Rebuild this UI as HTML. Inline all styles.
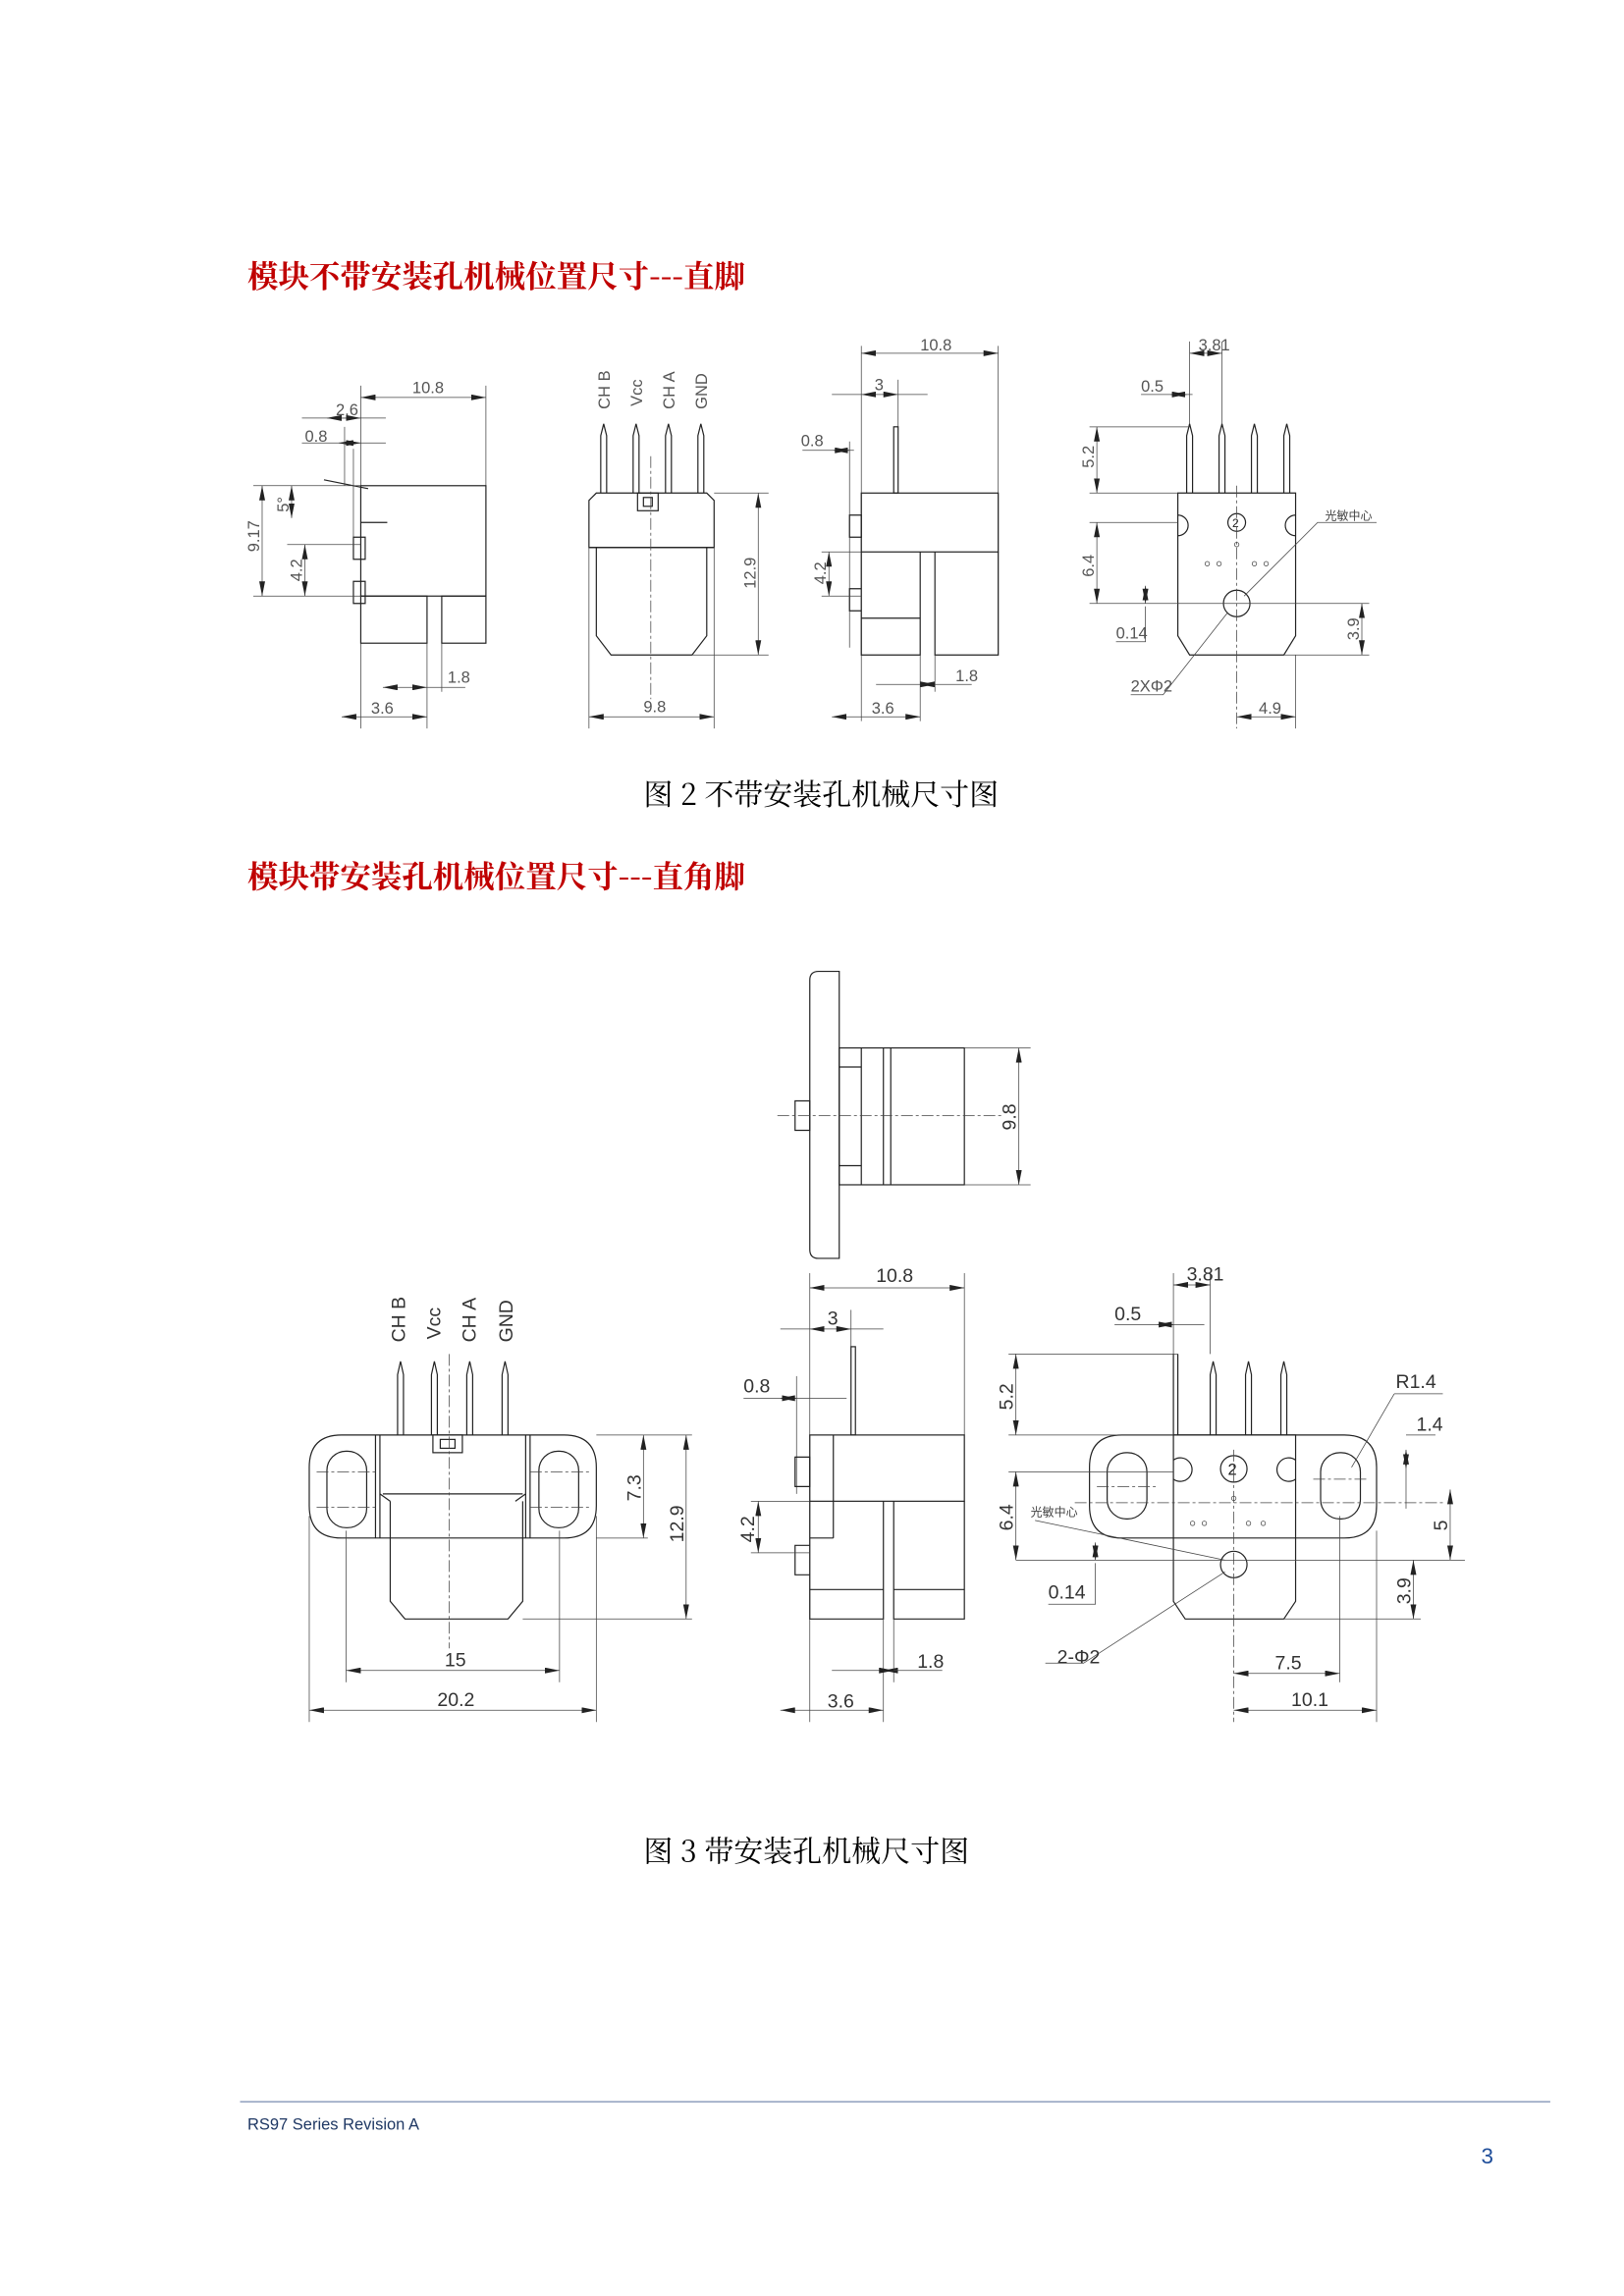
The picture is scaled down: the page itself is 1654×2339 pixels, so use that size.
<!DOCTYPE html>
<html><head><meta charset="utf-8"><style>
html,body{margin:0;padding:0;background:#fff}
svg{display:block}
.b{fill:none;stroke:#222;stroke-width:0.8}
.d{fill:none;stroke:#444;stroke-width:0.5}
.c{fill:none;stroke:#444;stroke-width:0.5;stroke-dasharray:8 2 2 2}
.a{fill:none;stroke:#444;stroke-width:0.5;marker-start:url(#as);marker-end:url(#ae)}
.t{font-family:"Liberation Sans Narrow","Liberation Sans",sans-serif;font-size:11px;fill:#555}
.t2{font-family:"Liberation Sans Narrow","Liberation Sans",sans-serif;font-size:13px;fill:#333}
.tc{font-family:"Noto Sans CJK SC",sans-serif;font-size:8px;fill:#444}
</style></head><body>
<svg width="1654" height="2339" viewBox="0 0 1103 1560" xmlns="http://www.w3.org/2000/svg">
<defs>
<marker id="ae" viewBox="0 0 10 4" refX="10" refY="2" markerWidth="10" markerHeight="4" orient="auto" markerUnits="userSpaceOnUse"><path d="M0,0L10,2L0,4z" fill="#222"/></marker>
<marker id="as" viewBox="0 0 10 4" refX="0" refY="2" markerWidth="10" markerHeight="4" orient="auto" markerUnits="userSpaceOnUse"><path d="M10,0L0,2L10,4z" fill="#222"/></marker>
</defs>

<text x="168" y="195" font-family="'Noto Serif CJK SC',serif" font-weight="bold" font-size="21" fill="#c00000">模块不带安装孔机械位置尺寸---直脚</text>
<text x="168" y="603" font-family="'Noto Serif CJK SC',serif" font-weight="bold" font-size="21" fill="#c00000">模块带安装孔机械位置尺寸---直角脚</text>
<text x="437" y="547" font-family="'Noto Serif CJK SC',serif" font-size="20" fill="#000">图 2  不带安装孔机械尺寸图</text>
<text x="437" y="1265" font-family="'Noto Serif CJK SC',serif" font-size="20" fill="#000">图 3  带安装孔机械尺寸图</text>

<!-- ========== FIG 2 A ========== -->
<g>
<line class="d" x1="245" y1="262" x2="245" y2="495"/>
<line class="d" x1="330" y1="262" x2="330" y2="330"/>
<line class="a" x1="245" y1="270" x2="330" y2="270"/><text class="t" x="280" y="267">10.8</text>
<line class="d" x1="205" y1="284" x2="262" y2="284"/><line class="a" x1="222" y1="284" x2="245" y2="284"/><text class="t" x="228" y="282">2.6</text>
<line class="d" x1="205" y1="301" x2="262" y2="301"/><line class="a" x1="230" y1="301" x2="245" y2="301"/><text class="t" x="207" y="300">0.8</text>
<line class="d" x1="234" y1="290" x2="234" y2="330"/><line class="d" x1="240" y1="305" x2="240" y2="370"/>
<rect class="b" x="245" y="330" width="85" height="75"/>
<path class="b" d="M220,326 L250,332 M245,355 h18 M240,365 h8 v15 h-8z M240,395 h8 v15 h-8z"/>
<rect class="b" x="245" y="405" width="45" height="32"/><rect class="b" x="300" y="405" width="30" height="32"/>
<line class="d" x1="290" y1="437" x2="290" y2="495"/><line class="d" x1="300" y1="437" x2="300" y2="470"/>
<line class="d" x1="172" y1="330" x2="245" y2="330"/><line class="d" x1="172" y1="405" x2="245" y2="405"/>
<line class="a" x1="178" y1="330" x2="178" y2="405"/><text class="t" transform="translate(176,375) rotate(-90)">9.17</text>
<line class="a" x1="198" y1="330" x2="198" y2="352"/><text class="t" transform="translate(196,348) rotate(-90)">5°</text>
<line class="d" x1="195" y1="370" x2="245" y2="370"/>
<line class="a" x1="207" y1="370" x2="207" y2="405"/><text class="t" transform="translate(205,395) rotate(-90)">4.2</text>
<line class="a" x1="260" y1="467" x2="290" y2="467"/><line class="d" x1="290" y1="467" x2="316" y2="467"/><text class="t" x="304" y="464">1.8</text>
<line class="a" x1="232" y1="487" x2="290" y2="487"/><text class="t" x="252" y="485">3.6</text>
</g>

<!-- ========== FIG 2 B ========== -->
<g>
<text class="t" transform="translate(414,278) rotate(-90)">CH B</text>
<text class="t" transform="translate(436,276) rotate(-90)">Vcc</text>
<text class="t" transform="translate(458,278) rotate(-90)">CH A</text>
<text class="t" transform="translate(480,278) rotate(-90)">GND</text>
<path class="b" d="M408,335V296L410,288L412,296V335 M430,335V296L432,288L434,296V335 M452,335V296L454,288L456,296V335 M474,335V296L476,288L478,296V335"/>
<path class="b" d="M400,372V340L405,335H480L485,340V372Z"/>
<rect class="b" x="433" y="335" width="14" height="12"/><rect class="b" x="437" y="338" width="6" height="6"/>
<path class="b" d="M405,372V432L415,445H470L480,432V372"/>
<line class="b" x1="400" y1="372" x2="485" y2="372"/>
<line class="c" x1="442" y1="310" x2="442" y2="475"/>
<line class="d" x1="485" y1="335" x2="522" y2="335"/><line class="d" x1="470" y1="445" x2="522" y2="445"/>
<line class="a" x1="515" y1="335" x2="515" y2="445"/><text class="t" transform="translate(513,400) rotate(-90)">12.9</text>
<line class="d" x1="400" y1="372" x2="400" y2="495"/><line class="d" x1="485" y1="372" x2="485" y2="495"/>
<line class="a" x1="400" y1="487" x2="485" y2="487"/><text class="t" x="437" y="484">9.8</text>
</g>

<!-- ========== FIG 2 C ========== -->
<g>
<line class="d" x1="585" y1="235" x2="585" y2="490"/>
<line class="d" x1="678" y1="235" x2="678" y2="445"/>
<line class="a" x1="585" y1="240" x2="678" y2="240"/><text class="t" x="625" y="238">10.8</text>
<line class="d" x1="565" y1="268" x2="585" y2="268"/><line class="a" x1="585" y1="268" x2="610" y2="268"/><line class="d" x1="610" y1="268" x2="630" y2="268"/><text class="t" x="594" y="265">3</text>
<line class="d" x1="610" y1="258" x2="610" y2="290"/>
<line class="d" x1="545" y1="306" x2="580" y2="306"/><line class="a" x1="566" y1="306" x2="577" y2="306"/><text class="t" x="544" y="303">0.8</text>
<line class="d" x1="577" y1="300" x2="577" y2="440"/>
<rect class="b" x="607" y="290" width="3" height="45"/>
<rect class="b" x="585" y="335" width="93" height="40"/>
<path class="b" d="M585,375V445H625V375 M635,375V445H678V375 M585,420h40 M577,350h8v15h-8z M577,400h8v15h-8z"/>
<line class="d" x1="625" y1="445" x2="625" y2="490"/><line class="d" x1="635" y1="445" x2="635" y2="470"/>
<line class="d" x1="558" y1="375" x2="585" y2="375"/><line class="d" x1="558" y1="405" x2="585" y2="405"/>
<line class="a" x1="563" y1="375" x2="563" y2="405"/><text class="t" transform="translate(561,397) rotate(-90)">4.2</text>
<line class="d" x1="595" y1="465" x2="625" y2="465"/><line class="a" x1="625" y1="465" x2="635" y2="465"/><line class="d" x1="635" y1="465" x2="660" y2="465"/><text class="t" x="649" y="463">1.8</text>
<line class="a" x1="565" y1="487" x2="625" y2="487"/><text class="t" x="592" y="485">3.6</text>
</g>

<!-- ========== FIG 2 D ========== -->
<g>
<line class="d" x1="808" y1="232" x2="808" y2="290"/><line class="d" x1="830" y1="232" x2="830" y2="290"/>
<line class="a" x1="808" y1="240" x2="830" y2="240"/><text class="t" x="814" y="238">3.81</text>
<line class="d" x1="775" y1="268" x2="810" y2="268"/><line class="a" x1="795" y1="268" x2="806" y2="268"/><text class="t" x="775" y="266">0.5</text>
<path class="b" d="M806,335V296L808,288L810,296V335 M828,335V296L830,288L832,296V335 M850,335V296L852,288L854,296V335 M872,335V296L874,288L876,296V335"/>
<path class="b" d="M800,335H880V432L872,445H808L800,432Z"/>
<path class="b" d="M800,350A7,7 0 1 1 800,364 M880,350A7,7 0 1 0 880,364"/>
<circle class="b" cx="840" cy="355" r="6"/><text x="837" y="358" font-size="8" font-family="Liberation Sans" fill="#222">2</text>
<circle class="b" cx="840" cy="410" r="9"/>
<circle class="d" cx="820" cy="383" r="1.5"/><circle class="d" cx="828" cy="383" r="1.5"/><circle class="d" cx="852" cy="383" r="1.5"/><circle class="d" cx="860" cy="383" r="1.5"/><circle class="d" cx="840" cy="370" r="1.5"/>
<line class="c" x1="840" y1="330" x2="840" y2="495"/>
<line class="d" x1="740" y1="290" x2="808" y2="290"/><line class="d" x1="740" y1="335" x2="800" y2="335"/>
<line class="a" x1="745" y1="290" x2="745" y2="335"/><text class="t" transform="translate(743,318) rotate(-90)">5.2</text>
<line class="d" x1="740" y1="355" x2="800" y2="355"/><line class="d" x1="740" y1="410" x2="930" y2="410"/>
<line class="a" x1="745" y1="355" x2="745" y2="410"/><text class="t" transform="translate(743,392) rotate(-90)">6.4</text>
<line class="a" x1="778" y1="398" x2="778" y2="410"/><path class="d" d="M778,412V436H758"/><text class="t" x="758" y="434">0.14</text>
<line class="d" x1="872" y1="445" x2="930" y2="445"/>
<line class="a" x1="925" y1="410" x2="925" y2="445"/><text class="t" transform="translate(923,435) rotate(-90)">3.9</text>
<line class="d" x1="880" y1="445" x2="880" y2="495"/>
<line class="a" x1="840" y1="487" x2="880" y2="487"/><text class="t" x="855" y="485">4.9</text>
<path class="d" d="M768,472H790L834,416"/><text class="t" x="768" y="470">2XΦ2</text>
<path class="d" d="M845,405L895,355H935"/><text class="tc" x="900" y="353">光敏中心</text>
</g>

<!-- ========== FIG 3 TOP ========== -->
<g>
<path class="b" d="M556,660H570V855H556Q550,855 550,849V666Q550,660 556,660Z"/>
<rect class="b" x="570" y="712" width="85" height="93"/>
<path class="b" d="M585,712V805 M600,712V805 M605,712V805 M570,725h15 M570,792h15 M540,748h10v20h-10z"/>
<line class="c" x1="528" y1="758" x2="680" y2="758"/>
<line class="d" x1="655" y1="712" x2="700" y2="712"/><line class="d" x1="655" y1="805" x2="700" y2="805"/>
<line class="a" x1="692" y1="712" x2="692" y2="805"/><text class="t2" transform="translate(690,768) rotate(-90)">9.8</text>
</g>

<!-- ========== FIG 3 BOTTOM LEFT ========== -->
<g>
<text class="t2" transform="translate(275,912) rotate(-90)">CH B</text>
<text class="t2" transform="translate(299,910) rotate(-90)">Vcc</text>
<text class="t2" transform="translate(323,912) rotate(-90)">CH A</text>
<text class="t2" transform="translate(348,912) rotate(-90)">GND</text>
<path class="b" d="M270,975V934L272,925L274,934V975 M293,975V934L295,925L297,934V975 M317,975V934L319,925L321,934V975 M341,975V934L343,925L345,934V975"/>
<path class="b" d="M232,975H383Q405,975 405,997V1023Q405,1045 383,1045H232Q210,1045 210,1023V997Q210,975 232,975Z" fill="#fff"/>
<path class="b" d="M255,975V1045 M360,975V1045 M258,975V1045 M357,975V1045"/>
<path class="b" d="M260,1015H355 M265,1020V1088L275,1100H345L355,1088V1020 M258,1015L265,1020 M357,1015L350,1020"/>
<rect class="b" x="294" y="975" width="20" height="12"/><rect class="b" x="299" y="978" width="10" height="6"/>
<rect class="b" x="222" y="986" width="27" height="52" rx="13"/>
<rect class="b" x="366" y="986" width="27" height="52" rx="13"/>
<path class="c" d="M215,1000H255 M215,1024H255 M360,1000H400 M360,1024H400"/>
<line class="c" x1="305" y1="920" x2="305" y2="1120"/>
<line class="d" x1="405" y1="975" x2="470" y2="975"/><line class="d" x1="405" y1="1045" x2="440" y2="1045"/><line class="d" x1="355" y1="1100" x2="470" y2="1100"/>
<line class="a" x1="437" y1="975" x2="437" y2="1045"/><text class="t2" transform="translate(435,1020) rotate(-90)">7.3</text>
<line class="a" x1="466" y1="975" x2="466" y2="1100"/><text class="t2" transform="translate(464,1048) rotate(-90)">12.9</text>
<line class="d" x1="235" y1="1040" x2="235" y2="1143"/><line class="d" x1="380" y1="1040" x2="380" y2="1143"/>
<line class="d" x1="210" y1="1030" x2="210" y2="1170"/><line class="d" x1="405" y1="1030" x2="405" y2="1170"/>
<line class="a" x1="235" y1="1135" x2="380" y2="1135"/><text class="t2" x="302" y="1132">15</text>
<line class="a" x1="210" y1="1162" x2="405" y2="1162"/><text class="t2" x="297" y="1159">20.2</text>
</g>

<!-- ========== FIG 3 BOTTOM MID ========== -->
<g>
<line class="d" x1="550" y1="865" x2="550" y2="1170"/><line class="d" x1="655" y1="865" x2="655" y2="975"/>
<line class="a" x1="550" y1="875" x2="655" y2="875"/><text class="t2" x="595" y="871">10.8</text>
<line class="d" x1="530" y1="903" x2="550" y2="903"/><line class="a" x1="550" y1="903" x2="578" y2="903"/><line class="d" x1="578" y1="903" x2="600" y2="903"/><text class="t2" x="562" y="900">3</text>
<line class="d" x1="578" y1="890" x2="578" y2="915"/>
<line class="d" x1="505" y1="950" x2="575" y2="950"/><line class="a" x1="530" y1="950" x2="541" y2="950"/><text class="t2" x="505" y="946">0.8</text>
<line class="d" x1="541" y1="935" x2="541" y2="1015"/>
<rect class="b" x="578" y="915" width="3" height="60"/>
<rect class="b" x="550" y="975" width="105" height="45"/>
<path class="b" d="M550,1020V1100H600V1020 M607,1020V1100H655V1020 M550,1080h50 M607,1080h48 M540,990h10v20h-10z M540,1050h10v20h-10z M566,975V1045 M550,1045h16"/>
<line class="d" x1="600" y1="1100" x2="600" y2="1170"/><line class="d" x1="607" y1="1100" x2="607" y2="1143"/>
<line class="d" x1="510" y1="1020" x2="550" y2="1020"/><line class="d" x1="510" y1="1055" x2="550" y2="1055"/>
<line class="a" x1="515" y1="1020" x2="515" y2="1055"/><text class="t2" transform="translate(512,1048) rotate(-90)">4.2</text>
<line class="d" x1="565" y1="1135" x2="600" y2="1135"/><line class="a" x1="600" y1="1135" x2="607" y2="1135"/><line class="d" x1="607" y1="1135" x2="640" y2="1135"/><text class="t2" x="623" y="1133">1.8</text>
<line class="a" x1="530" y1="1162" x2="600" y2="1162"/><text class="t2" x="562" y="1160">3.6</text>
</g>

<!-- ========== FIG 3 BOTTOM RIGHT ========== -->
<g>
<line class="d" x1="797" y1="865" x2="797" y2="920"/><line class="d" x1="822" y1="865" x2="822" y2="920"/>
<line class="a" x1="797" y1="873" x2="822" y2="873"/><text class="t2" x="806" y="870">3.81</text>
<line class="d" x1="757" y1="900" x2="818" y2="900"/><line class="a" x1="786" y1="900" x2="797" y2="900"/><text class="t2" x="757" y="897">0.5</text>
<path class="b" d="M762,975H913Q935,975 935,997V1023Q935,1045 913,1045H762Q740,1045 740,1023V997Q740,975 762,975Z"/>
<path class="b" d="M797,975H880V1088L872,1100H805L797,1088Z" fill="#fff"/>
<path class="b" d="M797,920V975 M800,920V975 M822,975V934L824,925L826,934V975 M846,975V934L848,925L850,934V975 M870,975V934L872,925L874,934V975"/>
<path class="b" d="M797,992A8,8 0 1 1 797,1005 M880,992A8,8 0 1 0 880,1005"/>
<circle class="b" cx="838" cy="998" r="9"/><text x="834" y="1002" font-size="11" font-family="Liberation Sans" fill="#222">2</text>
<circle class="b" cx="838" cy="1063" r="9"/>
<circle class="d" cx="838" cy="1018" r="1.5"/><circle class="d" cx="810" cy="1035" r="1.5"/><circle class="d" cx="818" cy="1035" r="1.5"/><circle class="d" cx="848" cy="1035" r="1.5"/><circle class="d" cx="858" cy="1035" r="1.5"/>
<rect class="b" x="752" y="987" width="27" height="45" rx="13"/><rect class="b" x="897" y="987" width="27" height="45" rx="13"/>
<path class="c" d="M745,1010H785 M892,1005H930 M730,1021H980"/>
<line class="c" x1="838" y1="985" x2="838" y2="1170"/>
<line class="d" x1="685" y1="920" x2="800" y2="920"/><line class="d" x1="685" y1="975" x2="797" y2="975"/>
<line class="a" x1="690" y1="920" x2="690" y2="975"/><text class="t2" transform="translate(688,958) rotate(-90)">5.2</text>
<line class="d" x1="685" y1="1000" x2="797" y2="1000"/>
<line class="a" x1="690" y1="1000" x2="690" y2="1060"/><text class="t2" transform="translate(688,1040) rotate(-90)">6.4</text>
<line class="d" x1="690" y1="1060" x2="995" y2="1060"/>
<line class="a" x1="744" y1="1048" x2="744" y2="1060"/><path class="d" d="M744,1062V1090H712"/><text class="t2" x="712" y="1086">0.14</text>
<path class="d" d="M703,1033L832,1060"/><text class="tc" x="700" y="1030">光敏中心</text>
<path class="d" d="M710,1130H736L832,1068"/><text class="t2" x="718" y="1130">2-Φ2</text>
<line class="d" x1="872" y1="1100" x2="965" y2="1100"/>
<line class="a" x1="960" y1="1060" x2="960" y2="1100"/><text class="t2" transform="translate(958,1090) rotate(-90)">3.9</text>
<path class="d" d="M947,947H980 M947,947L918,997"/><text class="t2" x="948" y="943">R1.4</text>
<path class="d" d="M955,975H975"/><text class="t2" x="962" y="972">1.4</text>
<line class="a" x1="955" y1="985" x2="955" y="997" y2="998"/><line class="d" x1="955" y1="998" x2="955" y2="1025"/>
<line class="a" x1="985" y1="1012" x2="985" y2="1060"/><text class="t2" transform="translate(983,1040) rotate(-90)">5</text>
<line class="d" x1="910" y1="1030" x2="910" y2="1143"/><line class="d" x1="935" y1="1040" x2="935" y2="1170"/>
<line class="a" x1="838" y1="1137" x2="910" y2="1137"/><text class="t2" x="866" y="1134">7.5</text>
<line class="a" x1="838" y1="1162" x2="935" y2="1162"/><text class="t2" x="877" y="1159">10.1</text>
</g>

<!-- footer -->
<line x1="163" y1="1428" x2="1053" y2="1428" stroke="#6a7fa8" stroke-width="0.8"/>
<text x="168" y="1447" font-family="'Liberation Sans',sans-serif" font-size="11" fill="#1f3864">RS97 Series Revision A</text>
<text x="1006" y="1470" font-family="'Liberation Sans',sans-serif" font-size="15" fill="#1f4e9a">3</text>
</svg>
</body></html>
